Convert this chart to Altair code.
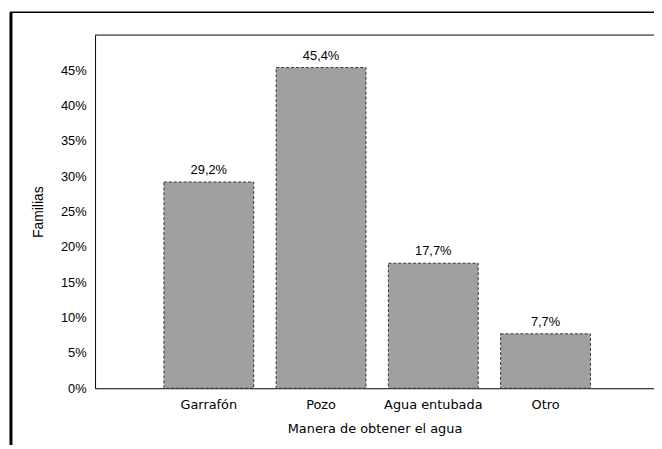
import altair as alt
import pandas as pd

categories = ["Garrafón", "Pozo", "Agua entubada", "Otro"]
values = [0.292, 0.454, 0.177, 0.077]
value_labels = ["29,2%", "45,4%", "17,7%", "7,7%"]
y_ticks = [0, 0.05, 0.10, 0.15, 0.20, 0.25, 0.30, 0.35, 0.40, 0.45]

df = pd.DataFrame({"cat": categories, "v": values, "lab": value_labels})

W, H = 565, 357

x_enc = alt.X(
    "cat:N",
    sort=categories,
    scale=alt.Scale(paddingInner=0.2, paddingOuter=0.59, align=0.52),
    axis=alt.Axis(
        title="Manera de obtener el agua",
        labelAngle=0,
        ticks=False,
        domainColor="black",
        labelFont="DejaVu Sans",
        labelFontSize=13,
        labelColor="black",
        labelPadding=10,
        titleFont="DejaVu Sans",
        titleFontSize=13,
        titleFontWeight="normal",
        titleColor="black",
        titlePadding=12,
    ),
)
y_enc = alt.Y(
    "v:Q",
    scale=alt.Scale(domain=[0, 0.5], nice=False),
    axis=alt.Axis(
        values=y_ticks,
        format=".0%",
        grid=False,
        ticks=False,
        labelOverlap=False,
        domainColor="black",
        labelPadding=9,
        labelFont="Liberation Sans",
        labelFontSize=13,
        labelColor="black",
        title="Familias",
        titleFont="Liberation Sans",
        titleFontSize=14,
        titleFontWeight="normal",
        titleColor="black",
        titlePadding=15,
    ),
)

base = alt.Chart(df).encode(x=x_enc, y=y_enc)
bars = base.mark_bar(
    fill="#a0a0a0", stroke="#333333", strokeWidth=1, strokeDash=[3, 2]
)
texts = base.mark_text(
    baseline="bottom", dy=-5, font="Liberation Sans", fontSize=13, color="black"
).encode(text="lab:N")

one = alt.Chart(pd.DataFrame({"a": [0]}))
top_line = one.mark_rule(color="black", strokeWidth=1).encode(
    x=alt.value(0), x2=alt.value(W), y=alt.value(0)
)
frame_left = one.mark_rule(color="black", strokeWidth=3).encode(
    x=alt.value(-85), y=alt.value(-23), y2=alt.value(H + 70)
)
frame_top = one.mark_rule(color="black", strokeWidth=1.5).encode(
    x=alt.value(-86), x2=alt.value(W + 10), y=alt.value(-23)
)

chart = (
    alt.layer(bars, texts, top_line, frame_left, frame_top)
    .properties(
        width=W,
        height=H,
        padding={"left": 88, "top": 25, "right": 0, "bottom": 55},
        autosize=alt.AutoSizeParams(type="none"),
        background="white",
    )
    .configure_view(stroke=None)
)

chart.save("out.html", embed_options={"renderer": "svg", "actions": False})
